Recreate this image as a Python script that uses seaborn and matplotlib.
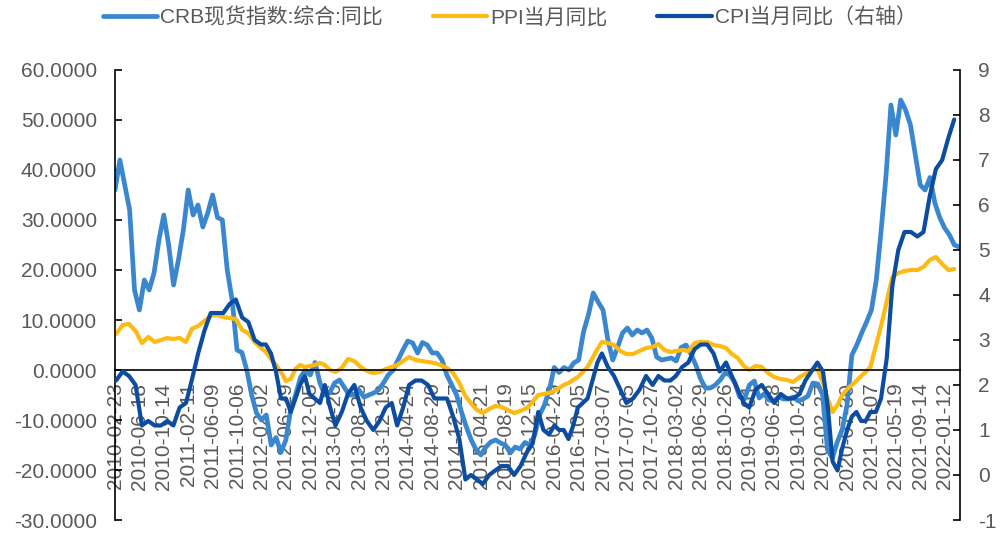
import numpy as np
import pandas as pd
import matplotlib
matplotlib.use('Agg')
import matplotlib.pyplot as plt
import seaborn as sns

sns.set_style('white')
plt.rcParams['font.family'] = ['Liberation Sans', 'Noto Sans CJK SC', 'DejaVu Sans']
plt.rcParams['axes.unicode_minus'] = False

# category-axis tick labels (one label every fixed number of rows)
tick_dates = ['2010-02-23', '2010-06-18', '2010-10-14', '2011-02-11', '2011-06-09',
              '2011-10-06', '2012-02-02', '2012-06-29', '2012-12-05', '2013-04-26',
              '2013-08-23', '2013-12-19', '2014-04-24', '2014-08-20', '2014-12-17',
              '2015-04-21', '2015-08-19', '2015-12-15', '2016-04-29', '2016-10-05',
              '2017-03-07', '2017-07-05', '2017-10-27', '2018-03-02', '2018-06-29',
              '2018-10-26', '2019-03-01', '2019-06-28', '2019-10-24', '2020-02-27',
              '2020-07-30', '2021-01-07', '2021-05-19', '2021-09-14', '2022-01-12']

# CRB spot index YoY (%), sampled evenly along the category axis (5 per label step)
crb = [36, 42, 37, 32, 16, 12, 18, 16, 19.4, 26,
       31, 25, 17, 22, 28, 36, 31, 33, 28.6, 31.4,
       35, 30.5, 30, 20, 14, 4, 3.5, 0, -5, -8.6,
       -10, -9, -15, -13.5, -16.5, -14, -8, -5, -1.5, 0,
       -1, 1.5, -2.6, -5, -4.5, -2.6, -2, -3.5, -5, -5,
       -4, -5.4, -5, -4.6, -4, -2.6, -1, 0, 2, 4,
       5.8, 5.4, 3.4, 5.5, 5, 3.4, 3.4, 2, -1, -3,
       -5, -8.4, -11.4, -14, -16, -17, -15.4, -14.4, -14, -14.6,
       -15, -16.6, -15.4, -15.8, -14.5, -15, -13, -9, -7, -4,
       0.5, -0.5, 0.5, 0, 1.4, 2, 7.6, 11, 15.4, 13.6,
       12, 6, 2, 4.6, 7.4, 8.4, 7, 8, 7.4, 8,
       6.4, 2.6, 2, 2.2, 2.4, 1.8, 4.5, 5, 3.2, 1,
       -1.8, -3.6, -3.6, -3, -2, -0.6, -1, -2.5, -5.4, -5.8,
       -3, -2.2, -5.6, -4.8, -6, -6.2, -5.4, -5.8, -5.8, -5.4,
       -6.2, -5.8, -5.2, -2.6, -2.8, -5, -16, -17.6, -14.4, -12,
       -7, 3, 5, 7.4, 9.6, 12, 18, 28, 39, 53,
       47, 54, 52, 49, 43, 37, 36, 38.5, 33.4, 30.5,
       28.4, 27, 25, 24.6]

# monthly series, Feb 2010 - Feb 2022
months = pd.date_range('2010-02-28', '2022-02-28', freq='ME')
ppi = [7.2, 9.0, 9.2, 7.8, 5.4, 6.6, 5.6, 6.0, 6.4, 6.2, 6.4,
       5.6, 8.2, 8.8, 9.8, 10.8, 11.0, 10.6, 10.4, 10.2, 8.0, 7.4, 5.6,
       4.4, 3.6, 2.2, 1.0, -0.4, -2.2, -1.8, 0.2, 1.0, 0.6, 0.8, 1.0,
       1.4, 1.0, 0.0, -0.4, 0.4, 2.2, 1.8, 0.6, -0.2, -0.6, -0.4, 0.2,
       0.6, 1.0, 1.8, 2.6, 2.0, 1.8, 1.6, 1.4, 1.0, 0.4, -0.6, -2.6,
       -5.2, -6.6, -8.0, -8.6, -7.8, -7.2, -7.4, -8.0, -8.6, -8.2, -7.6, -6.4,
       -5.0, -4.8, -4.6, -4.2, -3.6, -3.0, -2.6, -2.0, -1.4, -0.4, 0.6, 2.4,
       4.2, 5.6, 5.4, 5.0, 3.8, 3.2, 3.2, 3.8, 4.4, 4.6, 5.2, 4.0,
       3.6, 3.8, 4.0, 3.8, 5.4, 5.6, 5.6, 5.0, 4.8, 4.4, 3.2, 2.4,
       0.8, 0.0, 0.8, 0.6, -0.6, -1.4, -1.8, -2.0, -2.4, -1.4, -0.8, 0.0,
       0.2, -2.6, -5.8, -8.4, -7.0, -5.0, -3.8, -3.0, -2.2, -1.2, -0.4, 0.6,
       4.8, 8.8, 13.8, 18.6, 19.4, 19.8, 20.0, 20.0, 20.6, 22.0, 22.6, 21.2,
       20.0, 20.2]
cpi = [2.1, 2.3, 2.2, 2.0, 1.1, 1.2, 1.1, 1.1, 1.2, 1.1, 1.5,
       1.6, 2.1, 2.7, 3.2, 3.6, 3.6, 3.6, 3.8, 3.9, 3.5, 3.4, 3.0,
       2.9, 2.9, 2.7, 2.3, 1.7, 1.7, 1.4, 1.7, 2.0, 2.2, 1.8, 1.7,
       1.6, 2.0, 1.5, 1.1, 1.4, 1.8, 2.0, 1.5, 1.2, 1.0, 1.2, 1.5,
       1.6, 1.1, 1.5, 2.0, 2.1, 2.1, 2.0, 1.7, 1.7, 1.7, 1.3, 0.8,
       -0.1, 0.0, -0.1, -0.2, 0.0, 0.1, 0.2, 0.2, 0.0, 0.2, 0.5, 0.7,
       1.4, 1.0, 0.9, 1.1, 1.0, 1.0, 0.8, 1.1, 1.5, 1.6, 1.7, 2.1,
       2.5, 2.7, 2.4, 2.2, 1.9, 1.6, 1.7, 1.9, 2.2, 2.0, 2.2, 2.1,
       2.1, 2.2, 2.4, 2.5, 2.8, 2.9, 2.9, 2.7, 2.3, 2.5, 2.2, 1.9,
       1.6, 1.5, 1.9, 2.0, 1.8, 1.6, 1.8, 1.7, 1.7, 1.8, 2.1, 2.3,
       2.5, 2.3, 1.5, 0.3, 0.1, 0.6, 1.0, 1.3, 1.4, 1.2, 1.2, 1.4,
       1.4, 1.7, 2.6, 4.2, 5.0, 5.4, 5.4, 5.3, 5.4, 6.2, 6.8, 7.0,
       7.5, 7.9]

c_crb = '#3a87d0'
c_ppi = '#fdba12'
c_cpi = '#0c4da2'
grey = '#595959'


def to_pos(dates):
    # map calendar dates onto the category axis using the label anchors
    anchors = np.array([pd.Timestamp(d).toordinal() for d in tick_dates], dtype=float)
    o = np.array([d.toordinal() for d in dates], dtype=float)
    pos = np.interp(o, anchors, np.arange(len(anchors)))
    over = o > anchors[-1]
    pos[over] = len(anchors) - 1 + (o[over] - anchors[-1]) / (anchors[-1] - anchors[-2])
    return pos


crb_pos = np.arange(len(crb)) * 0.2
month_pos = to_pos(months)

fig = plt.figure(figsize=(10.05, 5.33), dpi=100)
ax = fig.add_axes([115 / 1005, 1 - 520 / 533, 845 / 1005, 450 / 533])
ax2 = ax.twinx()

sns.lineplot(x=crb_pos, y=crb, ax=ax, color=c_crb, linewidth=3.4, legend=False,
             label='CRB现货指数:综合:同比')
sns.lineplot(x=month_pos, y=ppi, ax=ax, color=c_ppi, linewidth=3.0, legend=False,
             label='PPI当月同比')
sns.lineplot(x=month_pos, y=cpi, ax=ax2, color=c_cpi, linewidth=3.0, legend=False,
             label='CPI当月同比（右轴）')

ax.set_xlim(0, 34.63)
ax.set_ylim(-30, 60)
ax2.set_ylim(-1, 9)
ax.set_yticks(np.arange(-30, 61, 10))
ax.set_yticklabels([f'{v:.4f}' for v in np.arange(-30, 61, 10)])
ax2.set_yticks(np.arange(-1, 10, 1))
ax.set_xticks(np.arange(len(tick_dates)))
ax.set_xticklabels(tick_dates)

for a in (ax, ax2):
    a.set_xlabel('')
    a.set_ylabel('')
    a.spines['top'].set_visible(False)
ax.spines['right'].set_visible(False)
ax2.spines['left'].set_visible(False)
ax2.spines['bottom'].set_visible(False)
ax.spines['bottom'].set_position(('data', 0))
ax.spines['bottom'].set_color('black')
ax.spines['bottom'].set_linewidth(1.2)
ax.spines['left'].set_color('black')
ax.spines['left'].set_linewidth(1.2)
ax2.spines['right'].set_color('black')
ax2.spines['right'].set_linewidth(1.2)

ax.tick_params(axis='y', direction='in', length=5, width=1.2, color='black',
               labelsize=15, labelcolor=grey, pad=13, left=True)
ax2.tick_params(axis='y', direction='in', length=5, width=1.2, color='black',
                labelsize=15, labelcolor=grey, pad=13, right=True)
ax.tick_params(axis='x', length=0, labelsize=15, labelcolor=grey, pad=9,
               labelrotation=90, bottom=True)
for lab in ax.get_xticklabels():
    lab.set_rotation(90)
    lab.set_va('top')
    lab.set_ha('center')

handles = [ax.lines[0], ax.lines[1], ax2.lines[0]]
labels = [h.get_label() for h in handles]
fig.legend(handles, labels, loc='center left', bbox_to_anchor=(103 / 1005, 1 - 17 / 533),
           ncol=3, frameon=False, fontsize=15, labelcolor=grey, handlelength=2.6,
           handletextpad=0.15, columnspacing=2.4, borderpad=0, borderaxespad=0)

fig.savefig('out.png', dpi=100)
